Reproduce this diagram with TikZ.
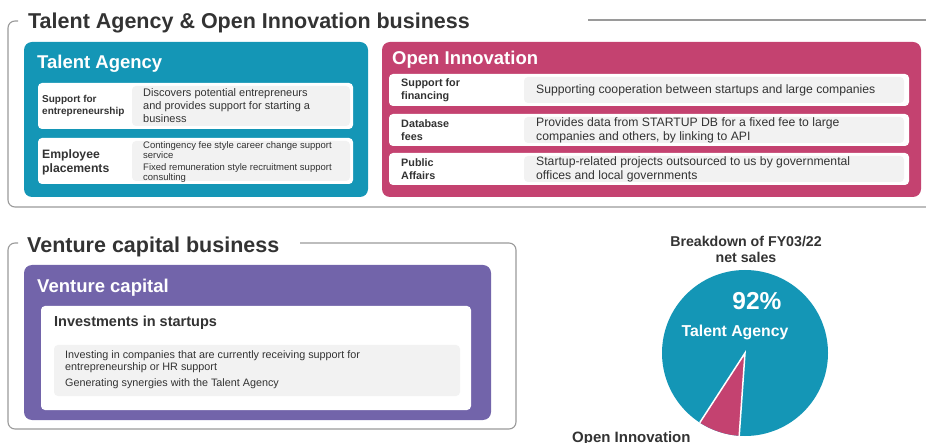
\documentclass[tikz,border=0pt]{standalone}
\usepackage{fontspec}
\setmainfont{Liberation Sans}
\usetikzlibrary{positioning}

\definecolor{agency}{HTML}{1496B6}
\definecolor{innov}{HTML}{C44270}
\definecolor{venture}{HTML}{7264AA}
\definecolor{panel}{HTML}{F2F2F2}
\definecolor{ink}{HTML}{333333}
\definecolor{framegray}{HTML}{9A9A9A}

\begin{document}
\begin{tikzpicture}[x=1pt, y=-1pt,
    frameline/.style = {draw=framegray, line width=1.1pt, rounded corners=7pt},
    unit/.style = {rounded corners=8pt},
    card/.style = {fill=white, rounded corners=4pt},
    shade/.style = {fill=panel, rounded corners=4pt},
    heading/.style = {anchor=base west, inner sep=0, text=ink, font=\fontsize{21.5}{24}\selectfont\bfseries},
    unithead/.style = {anchor=base west, inner sep=0, text=white, font=\fontsize{18.5}{21}\selectfont\bfseries},
    label/.style = {anchor=west, inner sep=0, align=left, text=ink, font=\fontsize{10}{12.5}\selectfont\bfseries},
    desc/.style = {anchor=west, inner sep=0, align=left, text=ink, font=\fontsize{11}{13}\selectfont},
    pielabel/.style = {inner sep=0, align=center, font=\bfseries}]
\useasboundingbox (0,0) rectangle (926,443);

% section frames
\draw[frameline] (18,21) -| (8,207) -- (930,207);
\draw[frameline] (588,20) -- (930,20);
\draw[frameline] (18,243) -| (8,429) -| (516,243) -- (300,243);

\node[heading] (tahead) at (28,29) {Talent Agency \& Open Innovation business};
\node[heading] (vchead) at (27,253) {Venture capital business};

% Talent Agency
\fill[agency, unit] (24,42) rectangle (368,197);
\node[unithead] (ta) at (37,69) {Talent Agency};
\fill[card] (38,83) rectangle (353,129);
\fill[shade] (132,86) rectangle (350,126);
\fill[card] (38,138) rectangle (353,184);
\fill[shade] (132,141) rectangle (350,181);
\node[label] (entre) at (42,106) {Support for\\entrepreneurship};
\node[desc] (entredesc) at (143,106) {Discovers potential entrepreneurs\\and provides support for starting a\\business};
\node[label, font=\fontsize{12.2}{14}\selectfont\bfseries] (place) at (42,162) {Employee\\placements};
\node[desc, font=\fontsize{9.5}{9.5}\selectfont] (placedesc) at (143,162)
    {Contingency fee style career change support\\service\\[3pt]Fixed remuneration style recruitment support\\consulting};

% Open Innovation
\fill[innov, unit] (382,42) rectangle (921,197);
\node[unithead] (oi) at (392,65) {Open Innovation};
\fill[card] (389,74) rectangle (909,106);
\fill[shade] (524,77) rectangle (904,103);
\fill[card] (389,114) rectangle (909,146);
\fill[shade] (524,117) rectangle (904,143);
\fill[card] (389,153) rectangle (909,185);
\fill[shade] (524,156) rectangle (904,182);
\node[label, font=\fontsize{10.8}{13}\selectfont\bfseries] (fin) at (401,90) {Support for\\financing};
\node[label, font=\fontsize{10.8}{13}\selectfont\bfseries] (db) at (401,130) {Database\\fees};
\node[label, font=\fontsize{10.8}{13}\selectfont\bfseries] (pa) at (401,169) {Public\\Affairs};
\node[desc, font=\fontsize{12.2}{14}\selectfont] (findesc) at (536,90) {Supporting cooperation between startups and large companies};
\node[desc, font=\fontsize{12.2}{14}\selectfont] (dbdesc) at (536,130) {Provides data from STARTUP DB for a fixed fee to large\\companies and others, by linking to API};
\node[desc, font=\fontsize{12.2}{14}\selectfont] (padesc) at (536,169) {Startup-related projects outsourced to us by governmental\\offices and local governments};

% Venture capital
\fill[venture, unit] (24,265) rectangle (491,420);
\node[unithead] (vc) at (37,293) {Venture capital};
\fill[card] (41,306) rectangle (471,410);
\fill[shade] (54,345) rectangle (460,396);
\node[anchor=base west, inner sep=0, text=ink, font=\fontsize{14.5}{17}\selectfont\bfseries] (invest) at (54,327) {Investments in startups};
\node[desc, font=\fontsize{10.8}{12}\selectfont] (investdesc) at (65,370)
    {Investing in companies that are currently receiving support for\\entrepreneurship or HR support\\[4pt]Generating synergies with the Talent Agency};

% net sales pie
\coordinate (pie) at (745,353);
\fill[agency] (pie) circle[radius=83];
\begin{scope}[shift={(pie)}]
  \fill[innov] (0,0) -- (94:83) arc[start angle=94, end angle=123, radius=83] -- cycle;
  \draw[white, line width=1.5pt] (94:83) -- (0,0) -- (123:83);
\end{scope}
\node[pielabel, text=ink, font=\fontsize{14.2}{16}\selectfont\bfseries] (breakdown) at (746,249) {Breakdown of FY03/22\\net sales};
\node[pielabel, text=white, font=\fontsize{24.5}{26}\selectfont\bfseries] (share) at (757,301) {92\%};
\node[pielabel, text=white, font=\fontsize{15.8}{18}\selectfont\bfseries] (talent) at (735,332) {Talent Agency};
\node[pielabel, text=ink, font=\fontsize{15}{17}\selectfont\bfseries, anchor=base west] (open) at (572,442) {Open Innovation};
\end{tikzpicture}
\end{document}
